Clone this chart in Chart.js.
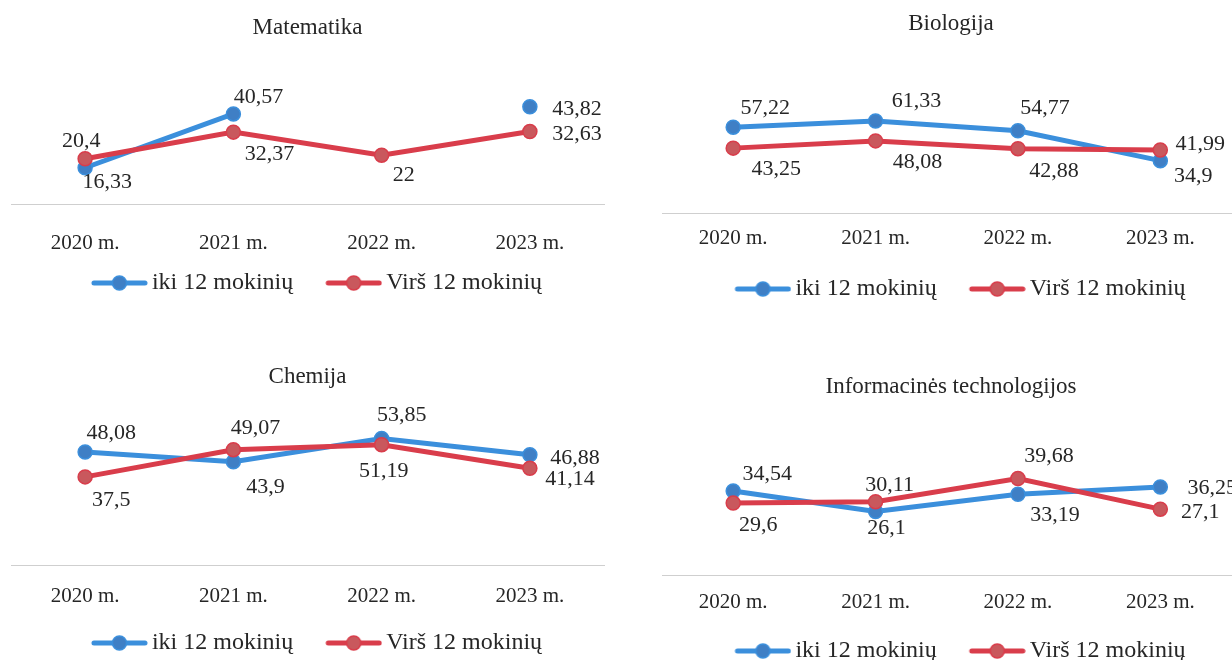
<!DOCTYPE html>
<html>
<head>
<meta charset="utf-8">
<script src="https://cdn.jsdelivr.net/npm/chart.js@4.4.1/dist/chart.umd.min.js"></script>
<style>
  html, body { margin: 0; background: #fff; overflow: hidden; width: 1232px; height: 660px; }
  .box { position: absolute; width: 616px; height: 360px; }
  .box.wide { width: 624px; }
</style>
</head>
<body>
<div class="box" style="left:0;top:0"><canvas id="c-mat"></canvas></div>
<div class="box wide" style="left:616px;top:0"><canvas id="c-bio"></canvas></div>
<div class="box" style="left:0;top:330px"><canvas id="c-chem"></canvas></div>
<div class="box wide" style="left:616px;top:330px"><canvas id="c-it"></canvas></div>
<script>
/* four small line charts: results by class size */

const YEARS = ["2020 m.", "2021 m.", "2022 m.", "2023 m."];
const SERIES = ["iki 12 mokinių", "Virš 12 mokinių"];

const matIki = [16.33, 40.57, null, 43.82];
const matVirs = [20.4, 32.37, 22, 32.63];
const bioIki = [57.22, 61.33, 54.77, 34.9];
const bioVirs = [43.25, 48.08, 42.88, 41.99];
const chemIki = [48.08, 43.9, 53.85, 46.88];
const chemVirs = [37.5, 49.07, 51.19, 41.14];
const itIki = [34.54, 26.1, 33.19, 36.25];
const itVirs = [29.6, 30.11, 39.68, 27.1];

// where each value label sits relative to its point (dx, dy)
const matIkiLbl = [[22, 14], [25, -17], null, [47, 2]];
const matVirsLbl = [[-4, -17], [36, 22], [22, 20], [47, 3]];
const bioIkiLbl = [[32, -19], [41, -20], [27, -23], [33, 16]];
const bioVirsLbl = [[43, 21], [42, 21], [36, 23], [40, -6]];
const chemIkiLbl = [[26, -19], [32, 25], [20, -23], [45, 3]];
const chemVirsLbl = [[26, 23], [22, -21], [2, 27], [40, 11]];
const itIkiLbl = [[34, -17], [11, 17], [37, 21], [52, 1]];
const itVirsLbl = [[25, 22], [14, -17], [31, -22], [40, 3]];

const FONT = '"Liberation Serif", "Times New Roman", serif';
const INK = "#262626";
const BLUE = "#3b8fdc", BLUE_PT = "#3f7fc5";
const RED = "#d93d4b", RED_PT = "#c9585d";

// legend swatch: thick line with a dot, kept on the right of the image
function legendMark(line, fill) {
  const c = document.createElement("canvas");
  c.width = 83; c.height = 18;
  const g = c.getContext("2d");
  g.strokeStyle = line; g.lineWidth = 5; g.lineCap = "round";
  g.beginPath(); g.moveTo(29, 9); g.lineTo(80, 9); g.stroke();
  g.beginPath(); g.arc(54.5, 9, 7, 0, Math.PI * 2);
  g.fillStyle = fill; g.fill(); g.lineWidth = 1.5; g.stroke();
  return c;
}
const MARKS = [legendMark(BLUE, BLUE_PT), legendMark(RED, RED_PT)];

const pointLabels = {
  id: "pointLabels",
  afterDatasetsDraw(chart) {
    const { ctx } = chart;
    ctx.save();
    ctx.font = "22px " + FONT;
    ctx.fillStyle = INK;
    ctx.textAlign = "center";
    ctx.textBaseline = "middle";
    chart.data.datasets.forEach((ds, i) => {
      chart.getDatasetMeta(i).data.forEach((pt, j) => {
        const v = ds.data[j], off = ds.labelOffsets[j];
        if (v == null || !off) return;
        ctx.fillText(String(v).replace(".", ","), pt.x + off[0], pt.y + off[1]);
      });
    });
    ctx.restore();
  },
};

function makeChart(id, title, iki, virs, ikiLbl, virsLbl, yMax, L) {
  const ds = (label, data, lbl, line, fill, order) => ({
    label, data, labelOffsets: lbl, order,
    borderColor: line, borderWidth: 5,
    pointRadius: 7, pointHoverRadius: 7, pointBorderWidth: 1.5,
    pointBackgroundColor: fill, pointBorderColor: line,
    spanGaps: false, tension: 0,
  });
  new Chart(document.getElementById(id), {
    type: "line",
    data: {
      labels: YEARS,
      datasets: [
        ds(SERIES[0], iki, ikiLbl, BLUE, BLUE_PT, 2),
        ds(SERIES[1], virs, virsLbl, RED, RED_PT, 1),
      ],
    },
    options: {
      responsive: true, maintainAspectRatio: false, animation: false,
      layout: { padding: { left: L.left, right: L.right, top: 0, bottom: L.bottom } },
      plugins: {
        tooltip: { enabled: false },
        title: {
          display: true, text: title, color: INK,
          font: { family: FONT, size: 23, weight: "normal" },
          padding: { top: L.tTop, bottom: L.tBot },
        },
        legend: {
          position: "bottom",
          labels: {
            color: INK, font: { family: FONT, size: 24 },
            usePointStyle: true, pointStyleWidth: 67, padding: 14,
            sort: (a, b) => a.datasetIndex - b.datasetIndex,
            generateLabels(chart) {
              const items = Chart.defaults.plugins.legend.labels.generateLabels(chart);
              items.forEach((it) => { it.pointStyle = MARKS[it.datasetIndex]; });
              return items;
            },
          },
        },
      },
      scales: {
        x: {
          offset: true,
          grid: { display: false, drawTicks: false },
          border: { display: true, color: "#cfcfcf", width: 1, dash: [2, 2] },
          ticks: { color: INK, font: { family: FONT, size: 21 }, padding: L.tickPad },
          afterFit(scale) { scale.height += L.extra; },
        },
        y: { display: false, min: 0, max: yMax },
      },
    },
    plugins: [pointLabels],
  });
}

makeChart("c-mat", "Matematika", matIki, matVirs, matIkiLbl, matVirsLbl, 50,
  { left: 11, right: 12, bottom: 55, tTop: 14, tBot: 51.4, tickPad: 26.4, extra: -25 });
makeChart("c-bio", "Biologija", bioIki, bioVirs, bioIkiLbl, bioVirsLbl, 80,
  { left: 46, right: 0, bottom: 49, tTop: 10, tBot: 55.4, tickPad: 12.4, extra: 0 });
makeChart("c-chem", "Chemija", chemIki, chemVirs, chemIkiLbl, chemVirsLbl, 60,
  { left: 11, right: 12, bottom: 25, tTop: 33, tBot: 33.4, tickPad: 18.4, extra: -10 });
makeChart("c-it", "Informacinės technologijos", itIki, itVirs, itIkiLbl, itVirsLbl, 50,
  { left: 46, right: 0, bottom: 17, tTop: 43, tBot: 52.9, tickPad: 14.4, extra: -4 });
</script>
</body>
</html>
